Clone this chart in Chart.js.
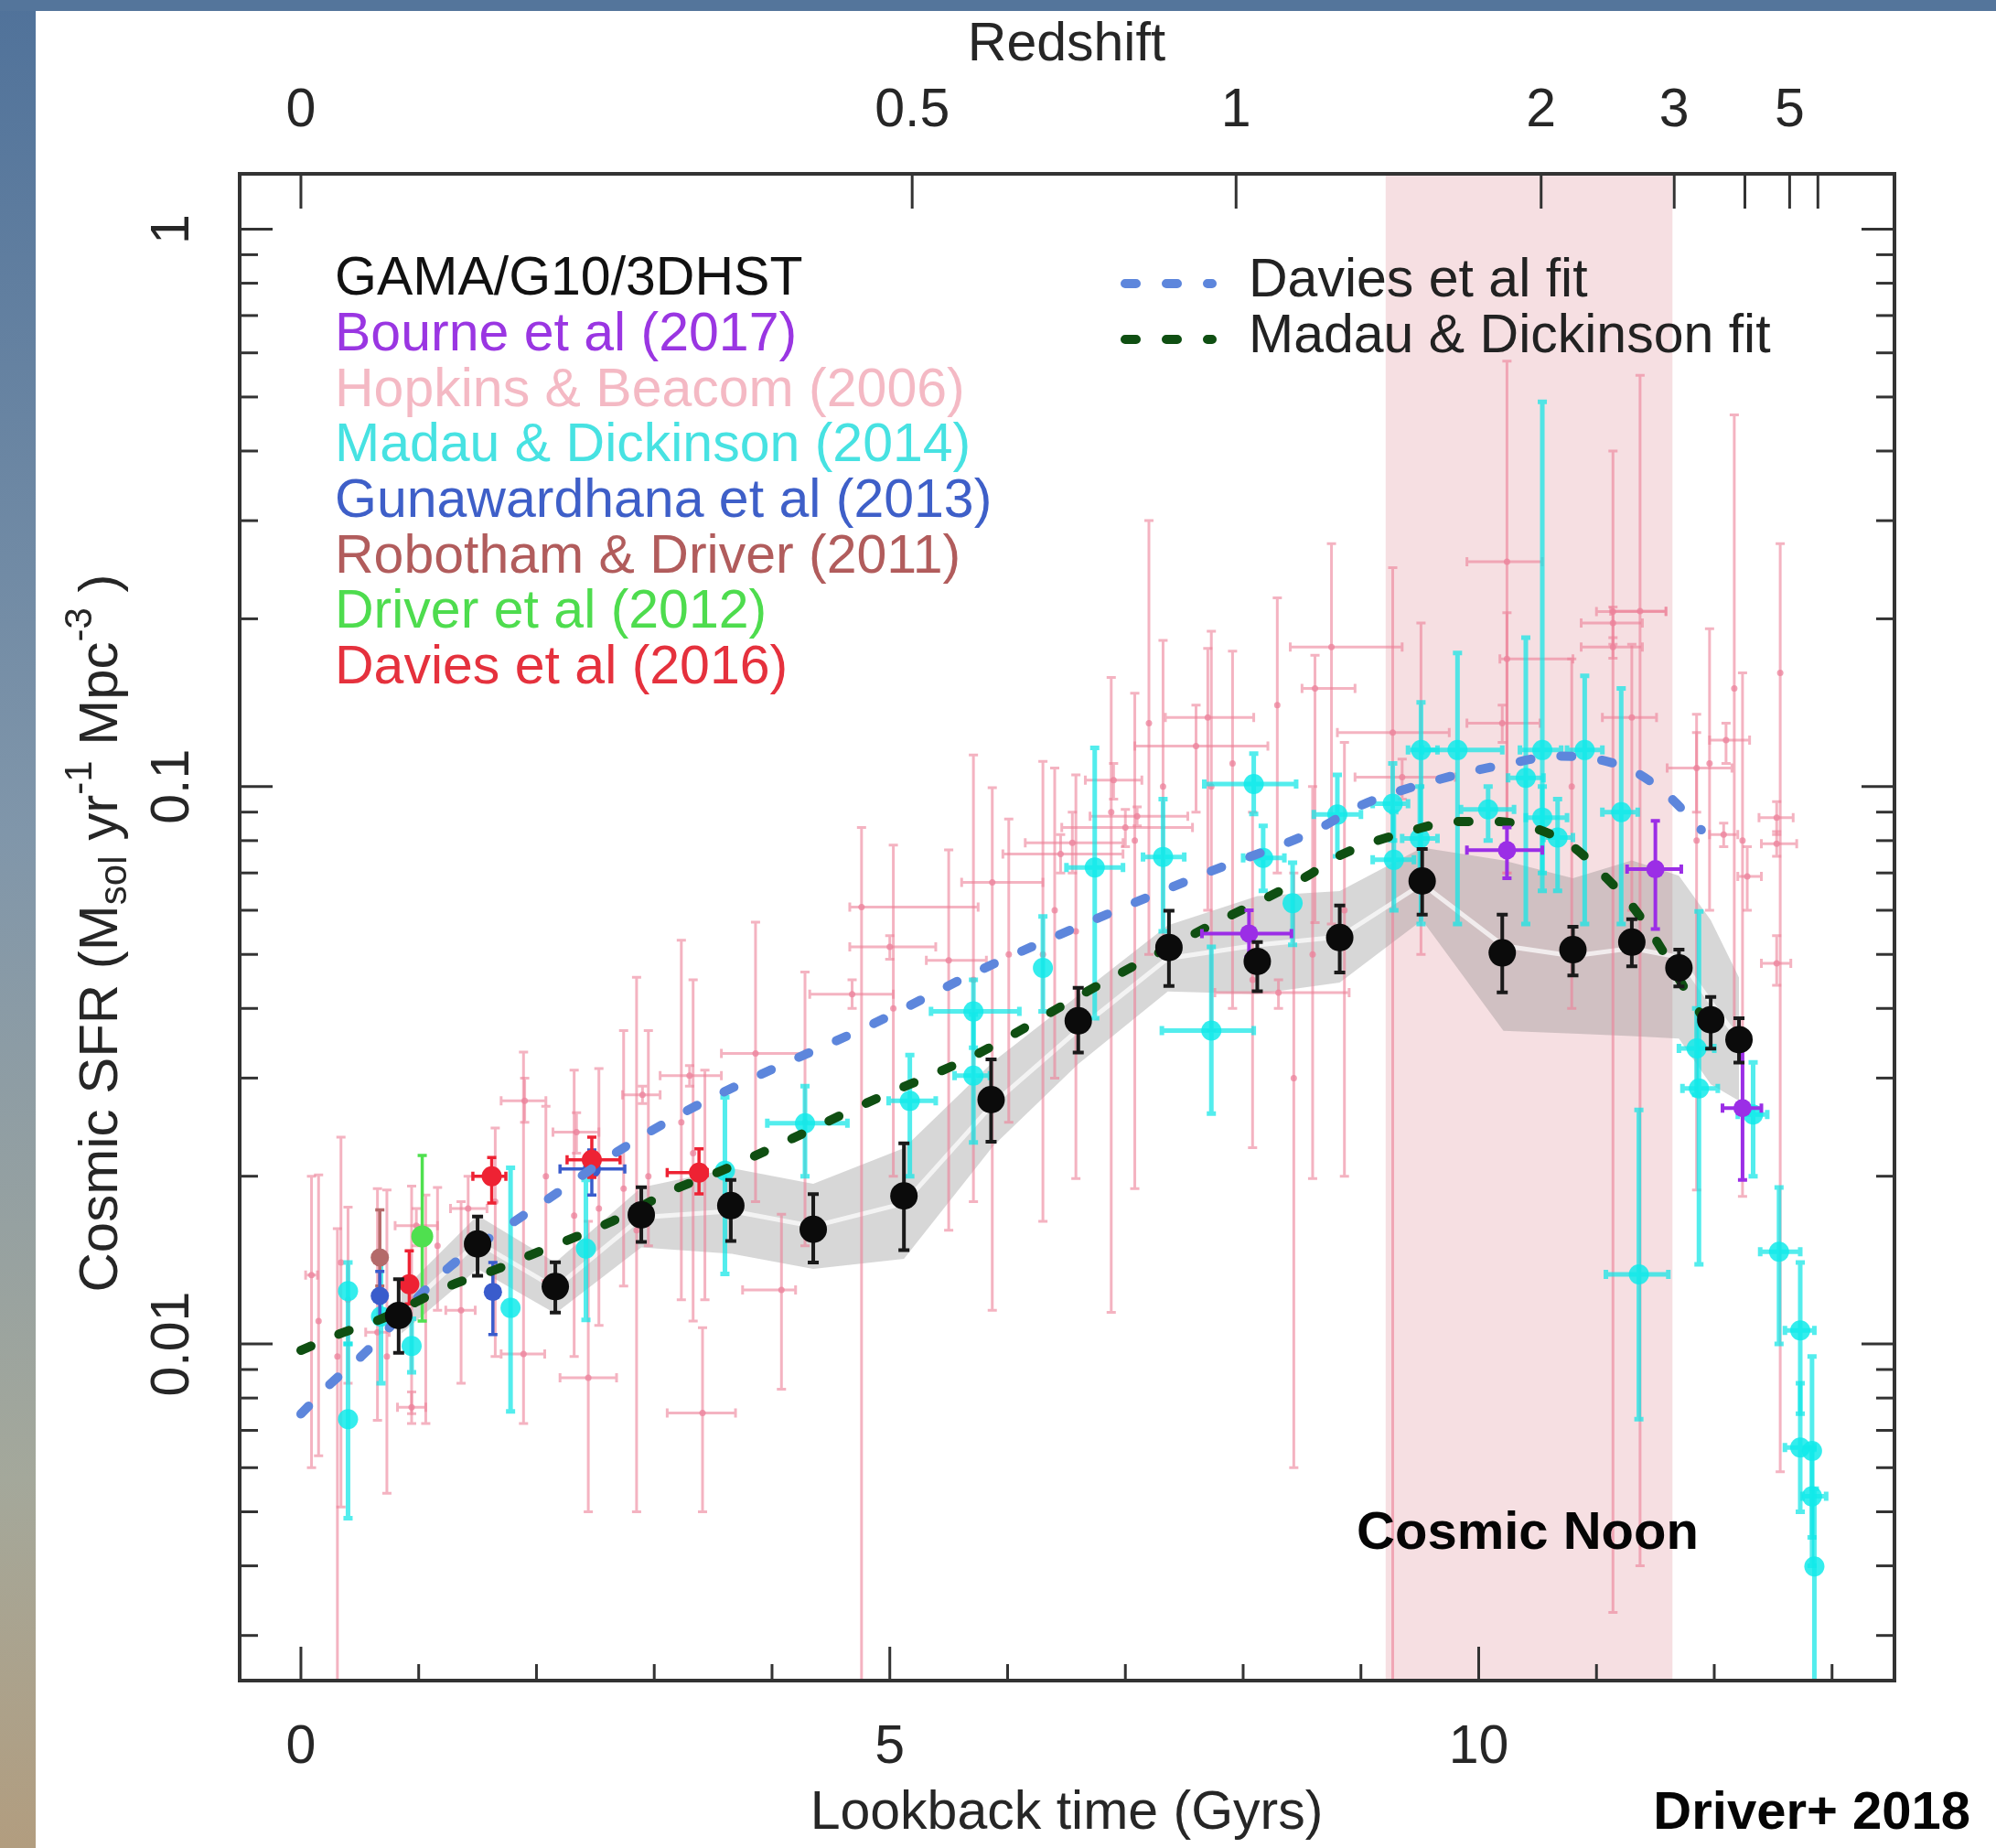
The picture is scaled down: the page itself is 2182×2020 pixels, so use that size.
<!DOCTYPE html>
<html>
<head>
<meta charset="utf-8">
<script src="https://cdn.jsdelivr.net/npm/chart.js@4.4.0/dist/chart.umd.min.js"></script>
<style>
  html, body { margin: 0; padding: 0; background: #fff; overflow: hidden; }
  canvas { display: block; }
</style>
</head>
<body>
<canvas id="sfr" width="2182" height="2020" style="width:2182px;height:2020px"></canvas>
<script>
// ---- axis ticks ----
const timeTicks = [0, 5, 10]
const timeMinor = [1, 2, 3, 4, 6, 7, 8, 9, 11, 12, 13]
const sfrTicks = [0.01, 0.1, 1]
const sfrTickLabels = ["0.01", "0.1", "1"]
const sfrMinor = [0.003, 0.004, 0.005, 0.006, 0.007, 0.008, 0.009,
  0.02, 0.03, 0.04, 0.05, 0.06, 0.07, 0.08, 0.09,
  0.2, 0.3, 0.4, 0.5, 0.6, 0.7, 0.8, 0.9]
const redshiftLabels = ["0", "0.5", "1", "2", "3", "", "5", ""]
const redshiftAges = [0, 5.19, 7.94, 10.53, 11.66, 12.26, 12.64, 12.88]
const noonRange = [9.21, 11.645]

// ---- GAMA/G10/3DHST ----
const gamaTime = [0.83, 1.50, 2.16, 2.89, 3.65, 4.35, 5.12, 5.86, 6.60, 7.37, 8.12, 8.82, 9.52, 10.20, 10.80, 11.30, 11.70, 11.97, 12.21]
const gamaSfr = [0.01125, 0.01512, 0.01268, 0.01705, 0.01771, 0.01606, 0.01844, 0.02744, 0.03800, 0.05144, 0.04856, 0.05361, 0.06771, 0.05032, 0.05098, 0.05260, 0.04730, 0.03817, 0.03516]
const gamaSfrLo = [0.00964, 0.01326, 0.01139, 0.01524, 0.01531, 0.01401, 0.01474, 0.02307, 0.03335, 0.04389, 0.04295, 0.04639, 0.05894, 0.04273, 0.04582, 0.04758, 0.04382, 0.03386, 0.03199]
const gamaSfrHi = [0.01307, 0.01694, 0.01402, 0.01911, 0.01970, 0.01857, 0.02290, 0.03240, 0.04357, 0.05991, 0.05260, 0.06120, 0.07726, 0.05894, 0.05603, 0.05783, 0.05098, 0.04193, 0.03842]

// grey uncertainty ribbon
const bandTime = [0.85, 1.50, 2.16, 2.89, 3.66, 4.35, 5.12, 5.88, 6.60, 7.36, 8.12, 8.82, 9.52, 10.21, 10.80, 11.30, 11.70, 11.97, 12.21]
const bandUpper = [0.01240, 0.01701, 0.01400, 0.01909, 0.02066, 0.01939, 0.02247, 0.03212, 0.04222, 0.05638, 0.06362, 0.06497, 0.07770, 0.07373, 0.06849, 0.07373, 0.06921, 0.05759, 0.04546]
const bandLower = [0.01043, 0.01364, 0.01134, 0.01491, 0.01452, 0.01364, 0.01422, 0.02270, 0.03179, 0.04289, 0.04244, 0.04450, 0.05759, 0.03645, 0.03607, 0.03569, 0.03531, 0.02922, 0.02730]
const bandMid = [0.01137, 0.01523, 0.01260, 0.01687, 0.01732, 0.01626, 0.01788, 0.02701, 0.03664, 0.04917, 0.05196, 0.05376, 0.06688, 0.05182, 0.04969, 0.05129, 0.04943, 0.04102, 0.03522]

// ---- fits ----
const daviesFitTime = [0, 0.25, 0.51, 1.25, 1.80, 2.11, 2.68, 3.27, 3.90, 4.85, 5.77, 6.71, 7.67, 8.62, 8.98, 9.63, 10.32, 10.65, 11.00, 11.32, 11.61, 11.89]
const daviesFitSfr = [0.00749, 0.00848, 0.00949, 0.01368, 0.01652, 0.01827, 0.02208, 0.02616, 0.03041, 0.03745, 0.04687, 0.05738, 0.06972, 0.08355, 0.09213, 0.10255, 0.11062, 0.11346, 0.11203, 0.10651, 0.09629, 0.08365]
const mdFitTime = [0, 0.33, 0.66, 1.28, 1.65, 1.96, 2.62, 3.18, 3.54, 4.17, 4.80, 5.74, 6.68, 7.62, 8.55, 8.80, 9.47, 9.81, 10.14, 10.50, 10.81, 11.06, 11.30, 11.50, 11.84, 11.99]
const mdFitSfr = [0.00974, 0.01043, 0.01104, 0.01276, 0.01359, 0.01447, 0.01652, 0.01897, 0.02033, 0.02336, 0.02704, 0.03311, 0.04295, 0.05492, 0.06921, 0.07485, 0.08386, 0.08655, 0.08655, 0.08386, 0.07773, 0.06940, 0.06120, 0.05327, 0.04040, 0.03645]

// ---- compilations: [time, sfr, timeLo, timeHi, sfrLo, sfrHi] ----
const bourne = [
  [8.05, 0.0545, 7.65, 8.41, 0.0495, 0.0600],
  [10.24, 0.0769, 9.90, 10.54, 0.0685, 0.0845],
  [11.50, 0.0711, 11.26, 11.72, 0.0555, 0.0868],
  [12.24, 0.0265, 12.07, 12.40, 0.0197, 0.0340]
]
const hopkins = [
  [0.09, 0.0133, 0.04, 0.14, 0.0060, 0.0200], [0.15, 0.0110, 0.15, 0.15, 0.0063, 0.0201],
  [0.31, 0.0095, 0.31, 0.31, 0.0020, 0.0161], [0.34, 0.0140, 0.34, 0.34, 0.0051, 0.0235],
  [0.40, 0.0120, 0.40, 0.40, 0.0085, 0.0176], [0.65, 0.0105, 0.55, 0.75, 0.0073, 0.0190],
  [0.73, 0.0095, 0.73, 0.73, 0.0054, 0.0189], [0.94, 0.0120, 0.94, 0.94, 0.0075, 0.0192],
  [0.94, 0.0077, 0.82, 1.06, 0.0072, 0.0082], [1.06, 0.0125, 1.06, 1.06, 0.0072, 0.0185],
  [1.16, 0.0150, 1.16, 1.16, 0.0115, 0.0191], [1.36, 0.0115, 1.23, 1.48, 0.0085, 0.0180],
  [1.42, 0.0175, 1.27, 1.58, 0.0150, 0.0200], [1.65, 0.0180, 1.65, 1.65, 0.0095, 0.0244],
  [1.89, 0.0096, 1.70, 2.07, 0.0072, 0.0334], [2.08, 0.0200, 2.08, 2.08, 0.0130, 0.0267],
  [1.90, 0.0273, 1.70, 2.08, 0.0250, 0.0300], [2.32, 0.0170, 2.32, 2.32, 0.0095, 0.0310],
  [2.53, 0.0175, 2.53, 2.53, 0.0108, 0.0312], [2.34, 0.0240, 2.14, 2.53, 0.0220, 0.0260],
  [2.74, 0.0190, 2.74, 2.74, 0.0127, 0.0365], [2.85, 0.0160, 2.85, 2.85, 0.0050, 0.0455],
  [2.95, 0.0200, 2.95, 2.95, 0.0150, 0.0365], [3.41, 0.00752, 3.11, 3.69, 0.0050, 0.0107],
  [4.08, 0.0125, 3.75, 4.20, 0.0083, 0.0171], [0.98, 0.0163, 0.80, 1.16, 0.0150, 0.0175],
  [2.44, 0.0087, 2.20, 2.68, 0.0050, 0.0166], [3.23, 0.0250, 3.23, 3.23, 0.0120, 0.0530],
  [3.33, 0.0220, 3.33, 3.33, 0.0110, 0.0450], [3.43, 0.0200, 3.43, 3.43, 0.0120, 0.0310],
  [3.30, 0.0303, 3.05, 3.57, 0.0290, 0.0316], [2.90, 0.0280, 2.73, 3.05, 0.0270, 0.0290],
  [3.86, 0.0332, 3.57, 4.28, 0.0180, 0.0571], [4.28, 0.0250, 4.28, 4.28, 0.0150, 0.0465],
  [4.68, 0.0424, 4.32, 5.03, 0.0400, 0.0450], [4.76, 0.0608, 4.66, 5.75, 0.0020, 0.0845],
  [5.00, 0.0516, 4.66, 5.39, 0.0490, 0.0540], [5.03, 0.0400, 5.03, 5.03, 0.0200, 0.0785],
  [5.50, 0.0488, 5.31, 5.82, 0.0160, 0.0770], [5.87, 0.0673, 5.61, 6.30, 0.0115, 0.0996],
  [5.71, 0.0450, 5.71, 5.71, 0.0180, 0.1140], [6.01, 0.0500, 6.01, 6.01, 0.0250, 0.0875],
  [6.45, 0.0757, 5.96, 6.98, 0.0700, 0.0820], [6.30, 0.0500, 6.30, 6.30, 0.0166, 0.1110],
  [6.40, 0.0600, 6.40, 6.40, 0.0300, 0.1080], [6.55, 0.0793, 6.15, 6.98, 0.0700, 0.0900],
  [6.58, 0.0550, 6.58, 6.58, 0.0198, 0.1050], [7.00, 0.0845, 6.46, 7.57, 0.0780, 0.0910],
  [6.88, 0.0900, 6.88, 6.88, 0.0114, 0.1570], [7.10, 0.0885, 6.70, 7.53, 0.0850, 0.0920],
  [7.60, 0.1182, 7.08, 8.21, 0.0900, 0.1400], [7.08, 0.0800, 7.08, 7.08, 0.0190, 0.1470],
  [7.20, 0.1300, 7.20, 7.20, 0.0500, 0.3000], [7.32, 0.1000, 7.32, 7.32, 0.0500, 0.1830],
  [7.70, 0.1330, 7.34, 8.09, 0.0600, 0.1770], [6.90, 0.1027, 6.66, 7.14, 0.0950, 0.1100],
  [7.73, 0.1000, 7.73, 7.73, 0.0365, 0.1900], [7.91, 0.1100, 7.91, 7.91, 0.0400, 0.1750],
  [8.08, 0.0450, 8.08, 8.08, 0.0225, 0.0900], [8.29, 0.1400, 8.29, 8.29, 0.0700, 0.2180],
  [8.43, 0.0300, 8.43, 8.43, 0.0060, 0.0700], [8.59, 0.0500, 8.59, 8.59, 0.0198, 0.1000],
  [8.86, 0.0600, 8.86, 8.86, 0.0200, 0.1200], [8.30, 0.0427, 7.76, 8.90, 0.0400, 0.0450],
  [8.61, 0.1500, 8.50, 8.95, 0.0570, 0.1720], [8.75, 0.1780, 8.40, 9.35, 0.0567, 0.2727],
  [9.27, 0.1250, 8.80, 9.75, 0.0020, 0.2470], [9.35, 0.1040, 8.95, 9.80, 0.0950, 0.1120],
  [9.51, 0.1000, 9.51, 9.51, 0.0500, 0.1965], [10.24, 0.2533, 9.90, 10.54, 0.0700, 0.5800],
  [10.24, 0.1695, 10.18, 10.80, 0.0700, 0.2050], [10.20, 0.1300, 9.90, 10.52, 0.1200, 0.1400],
  [10.79, 0.1000, 10.79, 10.79, 0.0400, 0.1695], [11.14, 0.2060, 11.00, 11.59, 0.0033, 0.4000],
  [11.14, 0.1965, 10.87, 11.39, 0.1800, 0.2100], [11.14, 0.1780, 10.87, 11.39, 0.1700, 0.1850],
  [11.37, 0.2064, 11.12, 11.59, 0.0040, 0.5470], [11.30, 0.1330, 11.05, 11.51, 0.0600, 0.1800],
  [11.96, 0.1100, 11.96, 11.96, 0.0600, 0.1920], [12.10, 0.1212, 11.96, 12.30, 0.1100, 0.1300],
  [11.85, 0.1080, 11.60, 12.15, 0.0900, 0.1250], [12.17, 0.1500, 12.17, 12.17, 0.0350, 0.4642],
  [12.24, 0.0800, 12.24, 12.24, 0.0184, 0.1600], [12.56, 0.1600, 12.56, 12.56, 0.0059, 0.2727],
  [12.53, 0.0880, 12.38, 12.67, 0.0820, 0.0940], [12.53, 0.0790, 12.40, 12.70, 0.0750, 0.0830],
  [11.85, 0.0800, 11.85, 11.85, 0.0189, 0.1348], [12.08, 0.0820, 11.96, 12.20, 0.0780, 0.0860],
  [12.28, 0.0690, 12.20, 12.40, 0.0600, 0.0780], [12.53, 0.0482, 12.40, 12.65, 0.0440, 0.0540]
]
const madau = [
  [0.40, 0.00733, 0.40, 0.40, 0.00487, 0.0100], [0.40, 0.01244, 0.40, 0.40, 0.0100, 0.0140],
  [0.94, 0.00992, 0.94, 0.94, 0.0089, 0.0111], [0.68, 0.0112, 0.68, 0.68, 0.0085, 0.0140],
  [1.78, 0.01161, 1.78, 1.78, 0.00757, 0.0207], [2.42, 0.01484, 2.42, 2.42, 0.01105, 0.0197],
  [3.60, 0.02046, 3.60, 3.60, 0.01336, 0.0277], [4.28, 0.0249, 3.96, 4.64, 0.0200, 0.0290],
  [5.17, 0.0273, 4.99, 5.39, 0.0200, 0.0330], [5.71, 0.0303, 5.55, 5.85, 0.0230, 0.0390],
  [5.71, 0.0395, 5.35, 6.10, 0.0340, 0.0450], [6.30, 0.0473, 6.30, 6.30, 0.0395, 0.0585],
  [6.74, 0.0716, 6.50, 6.98, 0.0384, 0.1173], [7.32, 0.0748, 7.15, 7.50, 0.0550, 0.0950],
  [7.73, 0.0365, 7.31, 8.09, 0.0259, 0.0516], [8.09, 0.1011, 7.67, 8.45, 0.0893, 0.1146],
  [8.17, 0.0745, 8.00, 8.35, 0.0650, 0.0850], [8.42, 0.0618, 8.42, 8.42, 0.0520, 0.0730],
  [8.80, 0.0891, 8.60, 9.00, 0.0750, 0.1050], [9.27, 0.0932, 9.10, 9.40, 0.0800, 0.1100],
  [9.28, 0.0739, 9.10, 9.45, 0.0600, 0.0900], [9.51, 0.1163, 9.40, 9.65, 0.0567, 0.1416],
  [9.50, 0.0807, 9.35, 9.65, 0.0650, 0.1000], [9.82, 0.1163, 9.52, 10.20, 0.0567, 0.1737],
  [10.08, 0.0910, 9.85, 10.30, 0.0800, 0.1000], [10.40, 0.1037, 10.25, 10.55, 0.0567, 0.1850],
  [10.54, 0.1163, 10.35, 10.70, 0.0650, 0.4900], [10.54, 0.0880, 10.40, 10.75, 0.0700, 0.1000],
  [10.67, 0.0810, 10.55, 10.80, 0.0650, 0.0950], [10.90, 0.1163, 10.75, 11.05, 0.0567, 0.1580],
  [11.21, 0.0900, 11.05, 11.35, 0.0567, 0.1500], [11.36, 0.01333, 11.08, 11.61, 0.00733, 0.0263],
  [11.85, 0.0339, 11.70, 12.00, 0.0280, 0.0400], [11.87, 0.02875, 11.73, 12.03, 0.0139, 0.0597],
  [12.33, 0.0258, 12.20, 12.45, 0.0200, 0.0320], [12.55, 0.01464, 12.39, 12.73, 0.0100, 0.0191],
  [12.73, 0.01058, 12.60, 12.85, 0.0075, 0.0140], [12.73, 0.00652, 12.60, 12.85, 0.0050, 0.0085],
  [12.83, 0.00643, 12.83, 12.83, 0.0045, 0.0095], [12.83, 0.00533, 12.75, 12.95, 0.0040, 0.0065],
  [12.85, 0.00399, 12.85, 12.85, 0.0020, 0.0055]
]
const gunawardhana = [
  [0.67, 0.0122, 0.67, 0.67, 0.0110, 0.0135],
  [1.63, 0.0124, 1.63, 1.63, 0.0104, 0.0140],
  [2.47, 0.0206, 2.20, 2.75, 0.0185, 0.0223]
]
const robotham = [[0.67, 0.0143, 0.67, 0.67, 0.0127, 0.0174]]
const driver12 = [[1.03, 0.0156, 1.03, 1.03, 0.0110, 0.0218]]
const davies16 = [
  [0.92, 0.0128, 0.92, 0.92, 0.0118, 0.0147],
  [1.62, 0.0200, 1.46, 1.74, 0.0179, 0.0216],
  [2.47, 0.0214, 2.26, 2.71, 0.0199, 0.0235],
  [3.38, 0.0203, 3.11, 3.45, 0.0186, 0.0224]
]

const legendNames = ["GAMA/G10/3DHST", "Bourne et al (2017)", "Hopkins & Beacom (2006)", "Madau & Dickinson (2014)",
  "Gunawardhana et al (2013)", "Robotham & Driver (2011)", "Driver et al (2012)", "Davies et al (2016)"]
const legendColors = ["#111111", "#9a36e2", "#f4b9c4", "#47e2e2", "#3e5fc8", "#b15c5c", "#4edc4e", "#e5313d"]
const fitNames = ["Davies et al fit", "Madau & Dickinson fit"]
const fitColors = ["#5d86dc", "#0f4f12"]

const FONT = '"Liberation Sans", Arial, Helvetica, sans-serif'
const INK = "#262626"

const rowsToPoints = rows => rows.map(([x, y, x0, x1, y0, y1]) => ({ x, y, xMin: x0, xMax: x1, yMin: y0, yMax: y1 }))
const xy = (xs, ys) => xs.map((x, i) => ({ x, y: ys[i] }))

function pointSet(label, rows, color, errColor, radius, errWidth, order) {
  return {
    label, data: rowsToPoints(rows), order,
    backgroundColor: color, borderColor: color, borderWidth: 0,
    pointRadius: radius, errColor, errWidth, errCap: 5
  }
}

const datasets = [
  { type: "line", label: "band upper", data: xy(bandTime, bandUpper), order: 95, showLine: true,
    borderColor: "rgba(0,0,0,0)", borderWidth: 1, pointRadius: 0, fill: "+1",
    backgroundColor: "rgba(110,110,110,0.28)" },
  { type: "line", label: "band lower", data: xy(bandTime, bandLower), order: 94, showLine: true,
    borderColor: "rgba(0,0,0,0)", borderWidth: 1, pointRadius: 0, fill: false },
  { type: "line", label: "band mid", data: xy(bandTime, bandMid), order: 93, showLine: true,
    borderColor: "rgba(255,255,255,0.7)", borderWidth: 5, pointRadius: 0, fill: false },
  pointSet("Hopkins & Beacom (2006)", hopkins, "rgba(236,130,155,0.75)", "rgba(236,128,152,0.6)", 3.5, 3, 80),
  pointSet("Madau & Dickinson (2014)", madau, "rgba(16,234,234,0.85)", "rgba(16,230,230,0.72)", 11, 5, 70),
  pointSet("Gunawardhana et al (2013)", gunawardhana, "#3a5ccc", "#3a5ccc", 10, 3.5, 60),
  pointSet("Robotham & Driver (2011)", robotham, "#b46a6a", "#b46a6a", 10, 3.5, 61),
  pointSet("Driver et al (2012)", driver12, "#4fe04f", "#4fe04f", 12, 3.5, 60),
  pointSet("Davies et al (2016)", davies16, "#ee2233", "#ee2233", 11, 3.5, 59),
  { type: "line", label: "Davies et al fit", data: xy(daviesFitTime, daviesFitSfr), order: 50, showLine: true,
    borderColor: fitColors[0], borderWidth: 10, borderDash: [12, 33], borderCapStyle: "round",
    cubicInterpolationMode: "monotone", pointRadius: 0, fill: false },
  { type: "line", label: "Madau & Dickinson fit", data: xy(mdFitTime, mdFitSfr), order: 49, showLine: true,
    borderColor: fitColors[1], borderWidth: 10, borderDash: [12, 33], borderCapStyle: "round",
    cubicInterpolationMode: "monotone", pointRadius: 0, fill: false },
  pointSet("Bourne et al (2017)", bourne, "#9b2ee6", "#9b2ee6", 10, 4, 40),
  { label: "GAMA/G10/3DHST", order: 10,
    data: gamaTime.map((x, i) => ({ x, y: gamaSfr[i], xMin: x, xMax: x, yMin: gamaSfrLo[i], yMax: gamaSfrHi[i] })),
    backgroundColor: "#0b0b0b", borderColor: "#0b0b0b", borderWidth: 0, pointRadius: 15,
    errColor: "#1a1a1a", errWidth: 4, errCap: 6 }
]

const background = {
  id: "background",
  beforeDraw(chart) {
    const { ctx, width, height } = chart
    ctx.save()
    const g = ctx.createLinearGradient(0, 0, 0, height)
    g.addColorStop(0, "#50729a")
    g.addColorStop(0.45, "#8096aa")
    g.addColorStop(0.8, "#a4a89b")
    g.addColorStop(1, "#b29d7f")
    ctx.fillStyle = g
    ctx.fillRect(0, 0, 39, height)
    ctx.fillStyle = "#54759b"
    ctx.fillRect(0, 0, width, 12)
    ctx.fillStyle = "#ffffff"
    ctx.fillRect(39, 12, width - 39, height - 12)
    ctx.restore()
  }
}

const noonBand = {
  id: "noonBand",
  beforeDatasetsDraw(chart) {
    const { ctx, chartArea: a, scales: { x } } = chart
    const x0 = x.getPixelForValue(noonRange[0]), x1 = x.getPixelForValue(noonRange[1])
    ctx.save()
    ctx.fillStyle = "rgba(232,172,180,0.38)"
    ctx.fillRect(x0, a.top, x1 - x0, a.bottom - a.top)
    ctx.restore()
  }
}

const errorBars = {
  id: "errorBars",
  beforeDatasetDraw(chart, args) {
    const ds = chart.data.datasets[args.index]
    if (!ds.errColor) return
    const { ctx, chartArea: a, scales: { x, y } } = chart
    const cap = ds.errCap
    ctx.save()
    ctx.beginPath()
    ctx.rect(a.left, a.top, a.right - a.left, a.bottom - a.top)
    ctx.clip()
    ctx.strokeStyle = ds.errColor
    ctx.lineWidth = ds.errWidth
    ctx.lineCap = "butt"
    for (const p of ds.data) {
      const px = x.getPixelForValue(p.x), py = y.getPixelForValue(p.y)
      ctx.beginPath()
      if (p.yMax > p.yMin) {
        const y1 = y.getPixelForValue(p.yMax), y2 = y.getPixelForValue(p.yMin)
        ctx.moveTo(px, y1); ctx.lineTo(px, y2)
        ctx.moveTo(px - cap, y1); ctx.lineTo(px + cap, y1)
        ctx.moveTo(px - cap, y2); ctx.lineTo(px + cap, y2)
      }
      if (p.xMax > p.xMin) {
        const x1 = x.getPixelForValue(p.xMin), x2 = x.getPixelForValue(p.xMax)
        ctx.moveTo(x1, py); ctx.lineTo(x2, py)
        ctx.moveTo(x1, py - cap); ctx.lineTo(x1, py + cap)
        ctx.moveTo(x2, py - cap); ctx.lineTo(x2, py + cap)
      }
      ctx.stroke()
    }
    ctx.restore()
  }
}

const frame = {
  id: "frame",
  afterDatasetsDraw(chart) {
    const { ctx, chartArea: a, scales: { x, y } } = chart
    ctx.save()
    ctx.strokeStyle = "#333"
    ctx.lineCap = "butt"
    ctx.lineWidth = 3
    const tick = (x0, y0, x1, y1) => { ctx.beginPath(); ctx.moveTo(x0, y0); ctx.lineTo(x1, y1); ctx.stroke() }
    // bottom
    timeTicks.forEach(v => { const px = x.getPixelForValue(v); tick(px, a.bottom, px, a.bottom - 37) })
    timeMinor.forEach(v => { const px = x.getPixelForValue(v); tick(px, a.bottom, px, a.bottom - 18) })
    // top (redshift)
    redshiftAges.forEach(v => { const px = x.getPixelForValue(v); tick(px, a.top, px, a.top + 38) })
    // left / right
    sfrTicks.forEach(v => {
      const py = y.getPixelForValue(v)
      tick(a.left, py, a.left + 36, py); tick(a.right, py, a.right - 36, py)
    })
    sfrMinor.forEach(v => {
      const py = y.getPixelForValue(v)
      tick(a.left, py, a.left + 20, py); tick(a.right, py, a.right - 20, py)
    })
    ctx.lineWidth = 4
    ctx.strokeRect(a.left, a.top, a.right - a.left, a.bottom - a.top)
    ctx.restore()
  },
  afterDraw(chart) {
    const { ctx, scales: { x, y } } = chart
    ctx.save()
    ctx.fillStyle = INK
    ctx.font = `59px ${FONT}`
    ctx.textAlign = "center"
    ctx.textBaseline = "middle"
    timeTicks.forEach(v => ctx.fillText(String(v), x.getPixelForValue(v), 1911))
    redshiftAges.forEach((v, i) => { if (redshiftLabels[i]) ctx.fillText(redshiftLabels[i], x.getPixelForValue(v), 122) })
    ctx.fillText("Redshift", 1166, 50)
    ctx.fillText("Lookback time (Gyrs)", 1166, 1983)
    sfrTicks.forEach((v, i) => {
      ctx.save()
      ctx.translate(190, y.getPixelForValue(v))
      ctx.rotate(-Math.PI / 2)
      ctx.fillText(sfrTickLabels[i], 0, 0)
      ctx.restore()
    })

    // y title with sub/superscripts
    const parts = [["Cosmic SFR (M", 60, 0], ["sol", 42, 10], [" yr", 60, 0], ["-1", 42, -28],
      [" Mpc", 60, 0], ["-3", 42, -28], [" )", 60, 0]]
    ctx.save()
    ctx.translate(128, 1020)
    ctx.rotate(-Math.PI / 2)
    ctx.textAlign = "left"
    ctx.textBaseline = "alphabetic"
    let total = 0
    parts.forEach(([t, s]) => { ctx.font = `${s}px ${FONT}`; total += ctx.measureText(t).width })
    let cx = -total / 2
    parts.forEach(([t, s, dy]) => {
      ctx.font = `${s}px ${FONT}`
      ctx.fillText(t, cx, dy)
      cx += ctx.measureText(t).width
    })
    ctx.restore()

    // legends
    ctx.font = `59px ${FONT}`
    ctx.textAlign = "left"
    legendNames.forEach((name, i) => {
      ctx.fillStyle = legendColors[i]
      ctx.fillText(name, 366, 306 + i * 60.7)
    })
    fitNames.forEach((name, i) => {
      const ly = 310 + i * 61
      ctx.save()
      ctx.strokeStyle = fitColors[i]
      ctx.lineWidth = 10
      ctx.lineCap = "round"
      ctx.setLineDash([12, 33])
      ctx.beginPath(); ctx.moveTo(1230, ly); ctx.lineTo(1325, ly); ctx.stroke()
      ctx.restore()
      ctx.fillStyle = "#222"
      ctx.fillText(name, 1365, ly - 2)
    })

    ctx.fillStyle = "#050505"
    ctx.font = `bold 58px ${FONT}`
    ctx.textAlign = "center"
    ctx.fillText("Cosmic Noon", 1670, 1677)
    ctx.textAlign = "right"
    ctx.fillText("Driver+ 2018", 2154, 1983)
    ctx.restore()
  }
}

new Chart(document.getElementById("sfr"), {
  type: "scatter",
  data: { datasets },
  options: {
    responsive: false,
    animation: false,
    devicePixelRatio: 1,
    events: [],
    layout: { padding: { left: 262, right: 111, top: 190, bottom: 183 } },
    scales: {
      x: { type: "linear", min: -0.52, max: 13.53, display: false },
      y: { type: "logarithmic", min: 0.00249, max: 1.257, display: false }
    },
    plugins: { legend: { display: false }, tooltip: { enabled: false } }
  },
  plugins: [background, noonBand, errorBars, frame]
})
</script>
</body>
</html>
